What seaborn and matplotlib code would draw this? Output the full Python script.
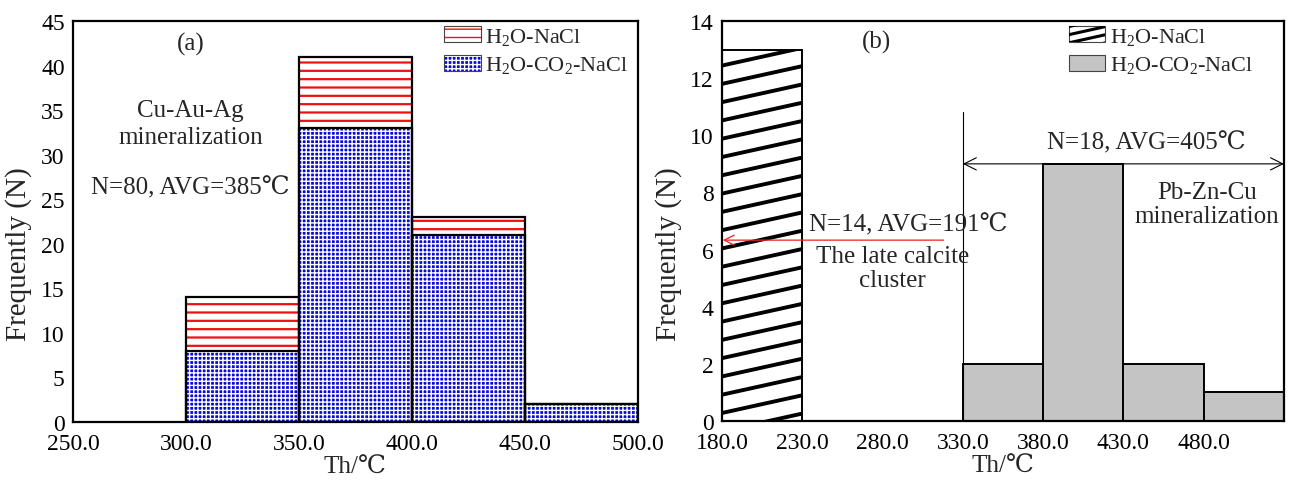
import numpy as np
import matplotlib
matplotlib.use("Agg")
import matplotlib.pyplot as plt
import seaborn as sns
from matplotlib.patches import Rectangle, Patch
from matplotlib.lines import Line2D
from matplotlib.legend_handler import HandlerPatch

# ---------------- data ----------------
# panel (a)
a_edges = [300, 350, 400, 450, 500]
a_h2o_co2_nacl = [8, 33, 21, 2]
a_h2o_nacl = [6, 8, 2, 0]
a_xticks = [250, 300, 350, 400, 450, 500]
a_yticks = [0, 5, 10, 15, 20, 25, 30, 35, 40, 45]
# panel (b)
b_h2o_edges = [180, 230]
b_h2o_nacl = [13]
b_co2_edges = [330, 380, 430, 480, 530]
b_h2o_co2_nacl = [2, 9, 2, 1]
b_xticks = [180, 230, 280, 330, 380, 430, 480]
b_yticks = [0, 2, 4, 6, 8, 10, 12, 14]

sns.set_theme(style="white")
FAM = ["Liberation Serif", "DejaVu Serif"]
plt.rcParams["font.family"] = FAM
plt.rcParams["mathtext.fontset"] = "custom"
plt.rcParams["mathtext.rm"] = "Liberation Serif"
plt.rcParams["mathtext.it"] = "Liberation Serif:italic"
plt.rcParams["axes.unicode_minus"] = False

TICK_FS = 17
LAB_FS = 21
ANN_FS = 18
LEG_FS = 16

fig = plt.figure(figsize=(12.89, 4.81), dpi=100)
axA = fig.add_axes([73/1289, 58/481, 565/1289, 401/481])
axB = fig.add_axes([722/1289, 59/481, 562/1289, 400/481])

LAB_H2O = "H$_2$O-NaCl"
LAB_CO2 = "H$_2$O-CO$_2$-NaCl"

def centers(edges):
    e = np.asarray(edges, float)
    return (e[:-1] + e[1:]) / 2

def hist_layer(ax, edges, weights, **kw):
    before = len(ax.patches)
    sns.histplot(x=centers(edges), weights=weights, bins=edges, ax=ax,
                 element="bars", stat="count", **kw)
    return ax.patches[before:]

def set_hlw(patches, lw):
    for p in patches:
        if hasattr(p, "set_hatch_linewidth"):
            p.set_hatch_linewidth(lw)

def style_axes(ax):
    ax.tick_params(direction="in", length=4, width=1, labelsize=TICK_FS, colors="black")
    ax.tick_params(axis="x", pad=8)
    ax.tick_params(axis="y", pad=6)
    for s in ax.spines.values():
        s.set_linewidth(1.6); s.set_color("black")
    ax.set_xlabel("Th/℃", fontsize=ANN_FS, family=FAM, labelpad=1)
    ax.set_ylabel("Frequently (N)", fontsize=LAB_FS, family=FAM)
    ax.yaxis.set_label_coords(-0.072, 0.42)

# ---------------- panel (a) ----------------
totals_a = [b + r for b, r in zip(a_h2o_co2_nacl, a_h2o_nacl)]
plt.rcParams["hatch.linewidth"] = 1.6
pr = hist_layer(axA, a_edges, totals_a, color="white", fill=True, alpha=1)
for p in pr:
    p.set_facecolor("white"); p.set_edgecolor("#ee1111"); p.set_hatch("--"); p.set_linewidth(0)
set_hlw(pr, 1.6)
plt.rcParams["hatch.linewidth"] = 1.0
pb = hist_layer(axA, a_edges, a_h2o_co2_nacl, color="#1818e8", fill=True, alpha=1)
for p in pb:
    p.set_facecolor("#0a0ad8"); p.set_edgecolor("white"); p.set_hatch("++++"); p.set_linewidth(0)
set_hlw(pb, 1.0)
for w in (totals_a, a_h2o_co2_nacl):
    po = hist_layer(axA, a_edges, w, fill=False, color="black")
    for p in po:
        p.set_facecolor("none"); p.set_edgecolor("black"); p.set_linewidth(1.6); p.set_hatch(None)

axA.set_xlim(250, 500)
axA.set_ylim(0, 45)
axA.set_xticks(a_xticks)
axA.set_xticklabels([f"{v:.1f}" for v in a_xticks])
axA.set_yticks(a_yticks)
style_axes(axA)

axA.text(302, 42.5, "(a)", fontsize=ANN_FS, ha="center", va="center", family=FAM)
axA.text(302, 33.5, "Cu-Au-Ag\nmineralization", fontsize=ANN_FS, ha="center", va="center",
         family=FAM, linespacing=1.3)
axA.text(302, 26.3, "N=80, AVG=385℃", fontsize=ANN_FS, ha="center", va="center", family=FAM)

h_red = Patch(facecolor="white", edgecolor="#ee1111", hatch="--", linewidth=0)
h_blue = Patch(facecolor="#0a0ad8", edgecolor="white", hatch="++++", linewidth=0)

class OutlinedHandler(HandlerPatch):
    def create_artists(self, legend, orig_handle, xdescent, ydescent, width, height, fontsize, trans):
        r = Rectangle((-xdescent, -ydescent), width, height, facecolor=orig_handle.get_facecolor(),
                      edgecolor=orig_handle.get_edgecolor(), hatch=orig_handle.get_hatch(),
                      linewidth=0, transform=trans)
        o = Rectangle((-xdescent, -ydescent), width, height, facecolor="none",
                      edgecolor="#444444", linewidth=0.8, transform=trans)
        return [r, o]

legA = axA.legend([h_red, h_blue], [LAB_H2O, LAB_CO2], loc="upper left",
                  bbox_to_anchor=(0.645, 1.005), frameon=False, fontsize=LEG_FS,
                  handlelength=1.65, handleheight=0.75, handletextpad=0.2,
                  labelspacing=0.35, borderaxespad=0.0, borderpad=0.3,
                  handler_map={Patch: OutlinedHandler()})

# ---------------- panel (b) ----------------
ph = hist_layer(axB, b_h2o_edges, b_h2o_nacl, color="white", fill=True, alpha=1)
for p in ph:
    p.set_facecolor("white"); p.set_edgecolor("black"); p.set_linewidth(1.4)
    # low-slope diagonal hatch, clipped to the bar
    x0 = p.get_x()
    w, hgt = p.get_width(), p.get_height()
    rise = 0.62
    for k in np.arange(-1.0, hgt + 1.0, 0.64):
        ln = Line2D([x0, x0 + w], [k, k + rise], color="black", lw=2.8, solid_capstyle="butt")
        axB.add_line(ln)
        ln.set_clip_path(p)

pg = hist_layer(axB, b_co2_edges, b_h2o_co2_nacl, color="#c0c0c0", fill=True, alpha=1)
for p in pg:
    p.set_facecolor("#c4c4c4"); p.set_edgecolor("black"); p.set_linewidth(1.4)

axB.set_xlim(180, 530)
axB.set_ylim(0, 14)
axB.set_xticks(b_xticks)
axB.set_xticklabels([f"{v:.1f}" for v in b_xticks])
axB.set_yticks(b_yticks)
style_axes(axB)

axB.text(276, 13.3, "(b)", fontsize=ANN_FS, ha="center", va="center", family=FAM)
axB.plot([330, 330], [0, 10.8], color="black", lw=0.8)
axB.annotate("", xy=(530, 9.0), xytext=(330, 9.0),
             arrowprops=dict(arrowstyle="<->", color="black", lw=0.8,
                             mutation_scale=22, shrinkA=0, shrinkB=0))
axB.text(444, 9.75, "N=18, AVG=405℃", fontsize=ANN_FS, ha="center", va="center", family=FAM)
axB.text(482, 7.6, "Pb-Zn-Cu\nmineralization", fontsize=ANN_FS, ha="center", va="center",
         family=FAM, linespacing=1.15)
axB.annotate("", xy=(180.5, 6.33), xytext=(318, 6.33),
             arrowprops=dict(arrowstyle="->", color="#ee2222", lw=0.9,
                             mutation_scale=18, shrinkA=0, shrinkB=0))
axB.text(296, 6.9, "N=14, AVG=191℃", fontsize=ANN_FS, ha="center", va="center", family=FAM)
axB.text(286, 5.35, "The late calcite\ncluster", fontsize=ANN_FS, ha="center", va="center",
         family=FAM, linespacing=1.15)

class DiagHandler(HandlerPatch):
    def create_artists(self, legend, orig_handle, xdescent, ydescent, width, height, fontsize, trans):
        x0, y0 = -xdescent, -ydescent
        r = Rectangle((x0, y0), width, height, facecolor="white", edgecolor="#444444",
                      linewidth=0.8, transform=trans)
        arts = [r]
        for k in (-0.55, -0.05, 0.45, 0.95):
            ln = Line2D([x0, x0 + width], [y0 + k * height, y0 + (k + 0.5) * height],
                        color="black", lw=2.2, transform=trans)
            ln.set_clip_path(r)
            arts.append(ln)
        return arts

h_diag = Rectangle((0, 0), 1, 1, facecolor="white")
h_gray = Patch(facecolor="#c4c4c4", edgecolor="#444444", linewidth=0.8)
legB = axB.legend([h_diag, h_gray], [LAB_H2O, LAB_CO2], loc="upper left",
                  bbox_to_anchor=(0.605, 1.005), frameon=False, fontsize=LEG_FS,
                  handlelength=1.65, handleheight=0.75, handletextpad=0.2,
                  labelspacing=0.35, borderaxespad=0.0, borderpad=0.3,
                  handler_map={Rectangle: DiagHandler()})

fig.savefig("out.png", dpi=100)
